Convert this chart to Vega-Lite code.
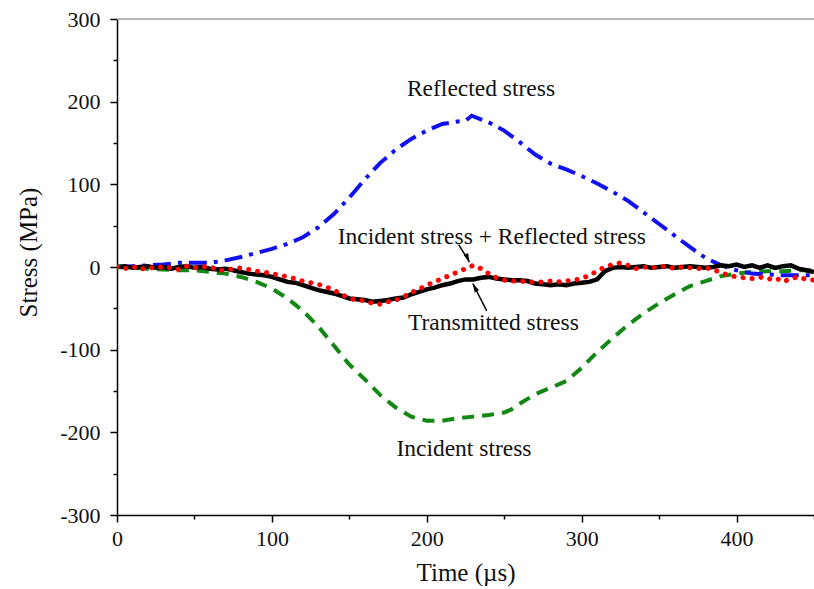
{
  "$schema": "https://vega.github.io/schema/vega-lite/v6.json",
  "width": 697,
  "height": 496,
  "autosize": "none",
  "padding": {"left": 117, "top": 19, "right": 0, "bottom": 74},
  "background": "white",
  "config": {
    "view": {"stroke": null},
    "axis": {
      "grid": false,
      "domainColor": "black",
      "domainWidth": 1.5,
      "tickColor": "black",
      "tickWidth": 1.5,
      "labelFont": "Liberation Serif",
      "labelFontSize": 22,
      "labelColor": "#111",
      "titleFont": "Liberation Serif",
      "titleFontSize": 25,
      "titleFontWeight": "normal",
      "titleColor": "#111"
    }
  },
  "datasets": {
    "incident": [
      {"t":0,"s":0},{"t":10,"s":-1},{"t":20,"s":-2},{"t":30,"s":-3},{"t":40,"s":-4},{"t":50,"s":-4},{"t":60,"s":-6},{"t":70,"s":-8},{"t":80,"s":-12},{"t":90,"s":-18},{"t":100,"s":-26},{"t":110,"s":-38},{"t":120,"s":-53},{"t":130,"s":-72},{"t":140,"s":-95},{"t":150,"s":-118},{"t":160,"s":-136},{"t":170,"s":-155},{"t":180,"s":-170},{"t":190,"s":-181},{"t":200,"s":-186},{"t":210,"s":-186},{"t":220,"s":-183},{"t":230,"s":-181},{"t":240,"s":-179},{"t":250,"s":-176},{"t":255,"s":-172},{"t":262,"s":-163},{"t":270,"s":-154},{"t":280,"s":-146},{"t":290,"s":-138},{"t":300,"s":-122},{"t":310,"s":-103},{"t":320,"s":-86},{"t":330,"s":-70},{"t":340,"s":-56},{"t":350,"s":-44},{"t":360,"s":-33},{"t":370,"s":-23},{"t":380,"s":-17},{"t":390,"s":-11},{"t":400,"s":-8},{"t":410,"s":-6},{"t":420,"s":-5},{"t":430,"s":-5},{"t":440,"s":-4},{"t":450,"s":-4}
    ],
    "reflected": [
      {"t":0,"s":0},{"t":10,"s":1},{"t":20,"s":2},{"t":30,"s":3},{"t":40,"s":5},{"t":50,"s":5},{"t":60,"s":5},{"t":70,"s":8},{"t":80,"s":12},{"t":90,"s":17},{"t":100,"s":22},{"t":110,"s":28},{"t":120,"s":36},{"t":130,"s":48},{"t":140,"s":64},{"t":150,"s":84},{"t":160,"s":106},{"t":170,"s":126},{"t":180,"s":142},{"t":190,"s":155},{"t":200,"s":165},{"t":210,"s":173},{"t":220,"s":176},{"t":225,"s":177},{"t":229,"s":183},{"t":240,"s":175},{"t":250,"s":165},{"t":260,"s":151},{"t":270,"s":136},{"t":280,"s":125},{"t":290,"s":118},{"t":300,"s":110},{"t":310,"s":101},{"t":320,"s":91},{"t":330,"s":80},{"t":340,"s":66},{"t":350,"s":52},{"t":360,"s":38},{"t":370,"s":24},{"t":380,"s":11},{"t":390,"s":2},{"t":400,"s":-4},{"t":410,"s":-8},{"t":420,"s":-9},{"t":430,"s":-10},{"t":440,"s":-10},{"t":450,"s":-10}
    ],
    "transmitted": [
      {"t":0,"s":0},{"t":5,"s":1},{"t":10,"s":-1},{"t":15,"s":0},{"t":20,"s":1},{"t":25,"s":-1},{"t":30,"s":0},{"t":35,"s":-2},{"t":40,"s":0},{"t":45,"s":1},{"t":50,"s":-1},{"t":55,"s":0},{"t":60,"s":-2},{"t":65,"s":-3},{"t":70,"s":-2},{"t":75,"s":-4},{"t":80,"s":-6},{"t":85,"s":-8},{"t":90,"s":-9},{"t":95,"s":-10},{"t":100,"s":-12},{"t":105,"s":-15},{"t":110,"s":-18},{"t":115,"s":-19},{"t":120,"s":-22},{"t":125,"s":-25},{"t":130,"s":-28},{"t":135,"s":-30},{"t":140,"s":-32},{"t":145,"s":-35},{"t":150,"s":-38},{"t":155,"s":-39},{"t":160,"s":-40},{"t":165,"s":-42},{"t":170,"s":-41},{"t":175,"s":-40},{"t":180,"s":-38},{"t":185,"s":-37},{"t":190,"s":-33},{"t":195,"s":-30},{"t":200,"s":-27},{"t":205,"s":-25},{"t":210,"s":-22},{"t":215,"s":-20},{"t":220,"s":-17},{"t":225,"s":-15},{"t":230,"s":-15},{"t":235,"s":-13},{"t":240,"s":-12},{"t":245,"s":-14},{"t":250,"s":-15},{"t":255,"s":-16},{"t":260,"s":-16},{"t":265,"s":-17},{"t":270,"s":-20},{"t":275,"s":-21},{"t":280,"s":-22},{"t":285,"s":-21},{"t":290,"s":-22},{"t":295,"s":-20},{"t":300,"s":-19},{"t":305,"s":-18},{"t":310,"s":-15},{"t":315,"s":-5},{"t":320,"s":-1},{"t":325,"s":0},{"t":330,"s":-1},{"t":335,"s":0},{"t":340,"s":1},{"t":345,"s":-1},{"t":350,"s":0},{"t":355,"s":1},{"t":360,"s":-1},{"t":365,"s":0},{"t":370,"s":1},{"t":375,"s":0},{"t":380,"s":-1},{"t":385,"s":0},{"t":390,"s":2},{"t":395,"s":1},{"t":400,"s":3},{"t":405,"s":0},{"t":410,"s":2},{"t":415,"s":-1},{"t":420,"s":2},{"t":425,"s":-1},{"t":430,"s":1},{"t":435,"s":2},{"t":440,"s":-2},{"t":445,"s":-4},{"t":450,"s":-6}
    ],
    "sum": [
      {"t":0,"s":0},{"t":5,"s":-2},{"t":10,"s":1},{"t":15,"s":-3},{"t":20,"s":0},{"t":25,"s":-2},{"t":30,"s":1},{"t":35,"s":-1},{"t":40,"s":-3},{"t":45,"s":1},{"t":50,"s":-1},{"t":55,"s":0},{"t":60,"s":1},{"t":65,"s":-4},{"t":70,"s":-4},{"t":75,"s":-2},{"t":80,"s":-1},{"t":85,"s":-3},{"t":90,"s":-5},{"t":95,"s":-6},{"t":100,"s":-8},{"t":105,"s":-10},{"t":110,"s":-12},{"t":115,"s":-14},{"t":120,"s":-17},{"t":125,"s":-19},{"t":130,"s":-21},{"t":135,"s":-24},{"t":140,"s":-28},{"t":145,"s":-33},{"t":150,"s":-38},{"t":155,"s":-40},{"t":160,"s":-41},{"t":165,"s":-44},{"t":170,"s":-45},{"t":175,"s":-42},{"t":180,"s":-40},{"t":185,"s":-36},{"t":190,"s":-31},{"t":195,"s":-27},{"t":200,"s":-22},{"t":205,"s":-18},{"t":210,"s":-14},{"t":215,"s":-10},{"t":220,"s":-6},{"t":225,"s":-2},{"t":230,"s":2},{"t":235,"s":-2},{"t":240,"s":-8},{"t":245,"s":-13},{"t":250,"s":-16},{"t":255,"s":-17},{"t":260,"s":-17},{"t":265,"s":-18},{"t":270,"s":-18},{"t":275,"s":-18},{"t":280,"s":-17},{"t":285,"s":-18},{"t":290,"s":-17},{"t":295,"s":-16},{"t":300,"s":-14},{"t":305,"s":-10},{"t":310,"s":-5},{"t":315,"s":0},{"t":320,"s":3},{"t":325,"s":5},{"t":330,"s":2},{"t":335,"s":-2},{"t":340,"s":0},{"t":345,"s":-1},{"t":350,"s":0},{"t":355,"s":1},{"t":360,"s":-2},{"t":365,"s":0},{"t":370,"s":-1},{"t":375,"s":-2},{"t":380,"s":-1},{"t":385,"s":-3},{"t":390,"s":-7},{"t":395,"s":-10},{"t":400,"s":-12},{"t":405,"s":-13},{"t":410,"s":-14},{"t":415,"s":-12},{"t":420,"s":-15},{"t":425,"s":-13},{"t":430,"s":-18},{"t":435,"s":-14},{"t":440,"s":-12},{"t":445,"s":-15},{"t":450,"s":-16}
    ],
    "labels": [
      {"t":235,"s":215,"text":"Reflected stress"},
      {"t":242,"s":36,"text":"Incident stress + Reflected stress"},
      {"t":243,"s":-68,"text":"Transmitted stress"},
      {"t":224,"s":-220,"text":"Incident stress"}
    ],
    "arrows": [
      {"t":220.6,"s":27,"t2":227.6,"s2":6,"angle":155.5},
      {"t":238.7,"s":-53,"t2":229.7,"s2":-20,"angle":332.6}
    ]
  },
  "layer": [
    {
      "data": {"name": "incident"},
      "mark": {"type": "line", "color": "#118811", "strokeWidth": 4, "strokeDash": [12, 8], "clip": true},
      "encoding": {
        "x": {"field": "t", "type": "quantitative", "scale": {"domain": [0, 450], "nice": false},
          "axis": {"title": "Time (µs)", "values": [0,50,100,150,200,250,300,350,400,450],
            "labelExpr": "datum.value % 100 === 0 ? '' + datum.value : ''",
            "tickSize": {"condition": {"test": "datum.value % 100 === 0", "value": 7}, "value": 4},
            "labelPadding": 6, "titlePadding": 11, "labelFlush": false}},
        "y": {"field": "s", "type": "quantitative", "scale": {"domain": [-300, 300], "nice": false},
          "axis": {"title": "Stress (MPa)", "values": [-300,-250,-200,-150,-100,-50,0,50,100,150,200,250,300],
            "labelExpr": "datum.value % 100 === 0 ? '' + datum.value : ''",
            "tickSize": {"condition": {"test": "datum.value % 100 === 0", "value": 7}, "value": 4},
            "labelPadding": 10, "titlePadding": 18, "titleY": 233, "labelFlush": false}}
      }
    },
    {
      "data": {"values": [{"y": 300}]},
      "mark": {"type": "rule", "color": "#a0a0a0", "strokeWidth": 1.5},
      "encoding": {"y": {"field": "y", "type": "quantitative"}}
    },
    {
      "data": {"name": "reflected"},
      "mark": {"type": "line", "color": "#1010f0", "strokeWidth": 4, "strokeDash": [18, 7, 4, 7], "clip": true},
      "encoding": {"x": {"field": "t", "type": "quantitative"}, "y": {"field": "s", "type": "quantitative"}}
    },
    {
      "data": {"name": "transmitted"},
      "mark": {"type": "line", "color": "black", "strokeWidth": 4.5, "clip": true},
      "encoding": {"x": {"field": "t", "type": "quantitative"}, "y": {"field": "s", "type": "quantitative"}}
    },
    {
      "data": {"name": "sum"},
      "mark": {"type": "line", "color": "#ff0000", "strokeWidth": 5, "strokeDash": [0.1, 9], "strokeCap": "round", "clip": true},
      "encoding": {"x": {"field": "t", "type": "quantitative"}, "y": {"field": "s", "type": "quantitative"}}
    },
    {
      "data": {"name": "arrows"},
      "mark": {"type": "rule", "color": "black", "strokeWidth": 1.5},
      "encoding": {"x": {"field": "t", "type": "quantitative"}, "y": {"field": "s", "type": "quantitative"}, "x2": {"field": "t2"}, "y2": {"field": "s2"}}
    },
    {
      "data": {"name": "arrows"},
      "mark": {"type": "point", "shape": "M0,0L0.55,2L-0.55,2Z", "filled": true, "color": "black", "size": 80, "opacity": 1},
      "encoding": {"x": {"field": "t2", "type": "quantitative"}, "y": {"field": "s2", "type": "quantitative"}, "angle": {"field": "angle", "type": "quantitative", "scale": null}}
    },
    {
      "data": {"name": "labels"},
      "mark": {"type": "text", "font": "Liberation Serif", "fontSize": 23.5, "color": "#111", "align": "center", "baseline": "middle"},
      "encoding": {"x": {"field": "t", "type": "quantitative"}, "y": {"field": "s", "type": "quantitative"}, "text": {"field": "text"}}
    }
  ]
}
